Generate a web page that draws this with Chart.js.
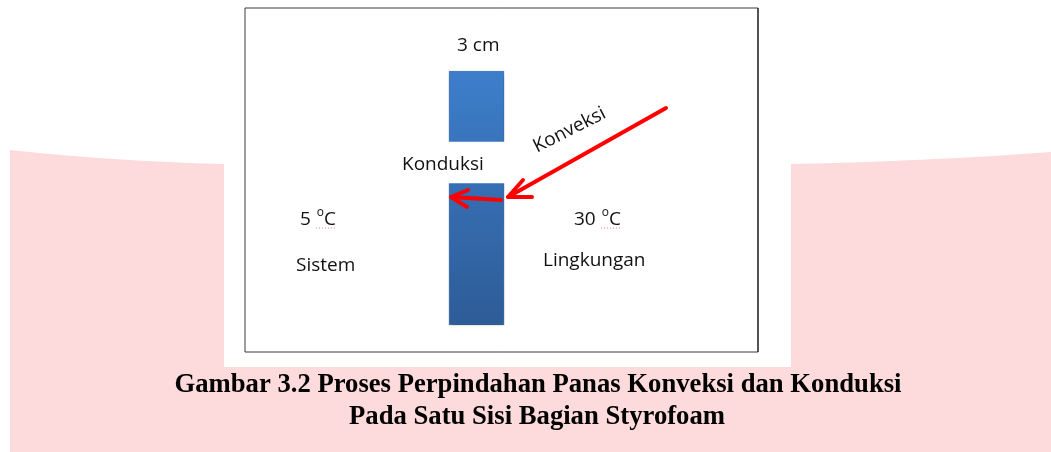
<!DOCTYPE html>
<html>
<head>
<meta charset="utf-8">
<script src="https://cdn.jsdelivr.net/npm/chart.js@4/dist/chart.umd.min.js"></script>
<style>
  html, body { margin: 0; padding: 0; background: #fff; }
  #wrap { width: 1051px; height: 452px; position: relative; }
</style>
</head>
<body>
<div id="wrap"><canvas id="diagram"></canvas></div>
<script>
// values shown in the figure
var temperatures = [5, 30];              // sistem, lingkungan (°C)
var regions = ["Sistem", "Lingkungan"];
var thickness = ["3 cm"];
var processes = ["Konduksi", "Konveksi"];
var captionLines = [
  "Gambar 3.2 Proses Perpindahan Panas Konveksi dan Konduksi",
  "Pada Satu Sisi Bagian Styrofoam"
];

// layout of the drawing, in picture units (x right, y down)
var wall = { x: 476.5, w: 55, top: 71, bottom: 325 };
var gap = { x: 454, w: 108, top: 142, bottom: 183 };
var frame = [[245, 8], [758, 8], [758, 352], [245, 352], [245, 8]];
var convArrow = [[666, 108], [508, 197]];
var convHead = [[523, 180], [508, 197], [532, 197]];
var condArrow = [[501, 200], [451, 197]];
var condHead = [[468, 190], [451, 197], [467, 207]];
var squiggles = [[[316, 228], [335, 228]], [[601, 228], [622, 228]]];

function pts(a) {
  return a.map(function (p) { return { x: p[0], y: p[1] }; });
}

var drawBits = {
  id: 'drawBits',
  beforeDatasetsDraw: function (chart) {
    var c = chart.ctx, X = chart.scales.x, Y = chart.scales.y;
    function px(v) { return X.getPixelForValue(v); }
    function py(v) { return Y.getPixelForValue(v); }
    c.save();
    // pink page background
    c.fillStyle = '#fddadb';
    c.beginPath();
    c.moveTo(px(10), py(150));
    c.quadraticCurveTo(px(110), py(161), px(224), py(164));
    c.lineTo(px(791), py(164));
    c.quadraticCurveTo(px(930), py(161), px(1051), py(152));
    c.lineTo(px(1051), py(452));
    c.lineTo(px(10), py(452));
    c.closePath();
    c.fill();
    // white image area
    c.fillStyle = '#ffffff';
    c.fillRect(px(224), py(0), px(791) - px(224), py(367) - py(0));
    c.restore();
  },
  beforeDatasetDraw: function (chart, args) {
    if (chart.data.datasets[args.index].label === 'wall') {
      var c = chart.ctx;
      c.save();
      c.shadowColor = 'rgba(0,0,0,0.35)';
      c.shadowBlur = 5;
      c.shadowOffsetX = 1;
      c.shadowOffsetY = 3;
    }
  },
  afterDatasetDraw: function (chart, args) {
    if (chart.data.datasets[args.index].label === 'wall') chart.ctx.restore();
  },
  afterDatasetsDraw: function (chart) {
    var c = chart.ctx, X = chart.scales.x, Y = chart.scales.y;
    function px(v) { return X.getPixelForValue(v); }
    function py(v) { return Y.getPixelForValue(v); }
    var sans = '"Open Sans", sans-serif';
    c.save();
    c.fillStyle = '#111';
    c.textBaseline = 'alphabetic';
    c.font = '19px ' + sans;
    c.fillText(thickness[0], px(457), py(51));
    c.fillText(processes[0], px(402), py(170));
    c.fillText(regions[0], px(296), py(271));
    c.fillText(regions[1], px(543), py(266));

    // temperatures with raised "o"
    function temp(val, x, y) {
      c.font = '19px ' + sans;
      var s = val + ' ';
      c.fillText(s, px(x), py(y));
      var x1 = px(x) + c.measureText(s).width + 1;
      c.font = '12px ' + sans;
      c.fillText('o', x1, py(y) - 9);
      x1 += c.measureText('o').width;
      c.font = '19px ' + sans;
      c.fillText('C', x1, py(y));
    }
    temp(temperatures[0], 300, 225);
    temp(temperatures[1], 574, 225);

    // rotated label along the convection arrow
    c.save();
    c.translate(px(572), py(135));
    c.rotate(-27 * Math.PI / 180);
    c.textAlign = 'center';
    c.font = '19px ' + sans;
    c.fillText(processes[1], 0, 0);
    c.restore();

    // caption
    c.fillStyle = '#000';
    c.font = 'bold 28px "Liberation Serif", "Times New Roman", serif';
    c.textAlign = 'left';
    var targets = [[538, 392, 727], [537, 424, 376]];
    captionLines.forEach(function (line, i) {
      var t = targets[i];
      var w = c.measureText(line).width;
      var k = t[2] / w;
      c.save();
      c.translate(px(t[0]) - t[2] / 2, py(t[1]));
      c.scale(k, 1);
      c.fillText(line, 0, 0);
      c.restore();
    });
    c.restore();
  }
};

var ctx = document.getElementById('diagram').getContext('2d');
var red = '#ff0000';
var chart = new Chart(ctx, {
  type: 'bar',
  data: {
    datasets: [
      { type: 'line', data: pts(convArrow), borderColor: red, borderWidth: 4, pointRadius: 0, order: 1, borderCapStyle: 'round' },
      { type: 'line', data: pts(convHead), borderColor: red, borderWidth: 4, pointRadius: 0, order: 1, borderCapStyle: 'round', borderJoinStyle: 'round' },
      { type: 'line', data: pts(condArrow), borderColor: red, borderWidth: 4, pointRadius: 0, order: 1, borderCapStyle: 'round' },
      { type: 'line', data: pts(condHead), borderColor: red, borderWidth: 4, pointRadius: 0, order: 1, borderCapStyle: 'round', borderJoinStyle: 'round' },
      { type: 'line', data: pts(squiggles[0]), borderColor: '#f08080', borderWidth: 1, borderDash: [1, 2], pointRadius: 0, order: 2 },
      { type: 'line', data: pts(squiggles[1]), borderColor: '#f08080', borderWidth: 1, borderDash: [1, 2], pointRadius: 0, order: 2 },
      {
        type: 'bar', label: 'gap', data: [{ x: gap.x, y: [gap.top, gap.bottom] }], grouped: false,
        backgroundColor: '#ffffff', borderWidth: 0, barThickness: gap.w, order: 4
      },
      {
        type: 'bar', label: 'wall', data: [{ x: wall.x, y: [wall.top, wall.bottom] }], grouped: false,
        barThickness: wall.w, borderWidth: 1, borderColor: '#4a7fc0', borderSkipped: false, order: 5,
        backgroundColor: function (context) {
          var ch = context.chart;
          if (!ch.chartArea) return '#3a75c0';
          var Y = ch.scales.y;
          var g = ch.ctx.createLinearGradient(0, Y.getPixelForValue(wall.top), 0, Y.getPixelForValue(wall.bottom));
          g.addColorStop(0, '#3d7ecb');
          g.addColorStop(1, '#2e5c97');
          return g;
        }
      },
      { type: 'line', data: pts(frame), borderColor: '#3a3a3a', borderWidth: 1, pointRadius: 0, order: 6 }
    ]
  },
  options: {
    responsive: true,
    maintainAspectRatio: false,
    animation: false,
    layout: { padding: 0 },
    plugins: { legend: { display: false }, tooltip: { enabled: false } },
    scales: {
      x: { type: 'linear', min: 0, max: 1051, display: false, offset: false },
      y: { type: 'linear', min: 0, max: 452, reverse: true, display: false }
    }
  },
  plugins: [drawBits]
});
</script>
</body>
</html>
